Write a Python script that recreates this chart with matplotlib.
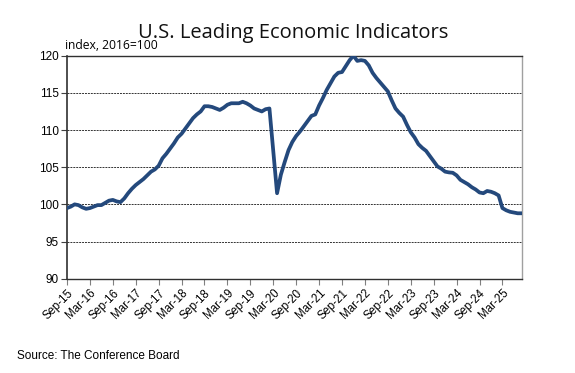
import numpy as np
import matplotlib.pyplot as plt

# monthly LEI, Sep-15 .. Aug-25 (index, 2016=100)
lei = [
    99.5, 99.7, 100.0, 99.9, 99.6, 99.4, 99.5, 99.7, 99.9, 99.9, 100.2, 100.5,
    100.6, 100.4, 100.3, 100.8, 101.5, 102.1, 102.6, 103.0, 103.4, 103.9, 104.4, 104.7,
    105.2, 106.2, 106.8, 107.5, 108.2, 109.0, 109.5, 110.2, 110.9, 111.6, 112.1, 112.5,
    113.2, 113.2, 113.1, 112.9, 112.7, 113.0, 113.4, 113.6, 113.6, 113.6, 113.8, 113.6,
    113.3, 112.9, 112.7, 112.5, 112.8, 112.9, 107.2, 101.5, 104.0, 105.7, 107.3, 108.4,
    109.2, 109.8, 110.5, 111.2, 111.9, 112.1, 113.3, 114.3, 115.4, 116.3, 117.2, 117.7,
    117.8, 118.6, 119.4, 120.0, 119.3, 119.4, 119.3, 118.7, 117.7, 117.0, 116.4, 115.8,
    115.2, 114.0, 112.9, 112.3, 111.8, 110.7, 109.7, 109.0, 108.1, 107.6, 107.2, 106.5,
    105.8, 105.1, 104.8, 104.4, 104.3, 104.25, 103.9, 103.3, 103.0, 102.7, 102.3, 102.0,
    101.6, 101.5, 101.8, 101.7, 101.5, 101.2, 99.5, 99.2, 99.0, 98.9, 98.8, 98.8,
]
tick_labels = ['Sep-15', 'Mar-16', 'Sep-16', 'Mar-17', 'Sep-17', 'Mar-18', 'Sep-18',
               'Mar-19', 'Sep-19', 'Mar-20', 'Sep-20', 'Mar-21', 'Sep-21', 'Mar-22',
               'Sep-22', 'Mar-23', 'Sep-23', 'Mar-24', 'Sep-24', 'Mar-25']
y_ticks = [90, 95, 100, 105, 110, 115, 120]

fig = plt.figure(figsize=(5.75, 3.73), dpi=100)
ax = fig.add_axes([0.1165, 0.2528, 0.7905, 0.5979])

x = np.arange(len(lei))
ax.plot(x, lei, color='#24497c', lw=2.7, solid_joinstyle='round', zorder=3)

ax.set_xlim(0, len(lei) - 1)
ax.set_ylim(90, 120)
ax.set_yticks(y_ticks)
ax.set_yticklabels([str(v) for v in y_ticks], fontsize=8.5, family='Liberation Sans')
ax.set_xticks(np.arange(0, len(lei), 6))
ax.set_xticklabels(tick_labels, rotation=45, ha='right', rotation_mode='anchor',
                   fontsize=8.3, family='Liberation Sans')
ax.tick_params(axis='x', length=4, color='#808080', pad=2)
ax.tick_params(axis='y', length=4, color='#404040', pad=2)

for v in y_ticks[1:-1]:
    ax.axhline(v, color='#333333', lw=0.7, ls=(0, (2, 1)), zorder=1)

ax.spines['left'].set_color('#303030')
ax.spines['left'].set_linewidth(1.2)
ax.spines['bottom'].set_color('#303030')
ax.spines['bottom'].set_linewidth(1.0)
ax.spines['top'].set_color('#303030')
ax.spines['top'].set_linewidth(1.0)
ax.spines['right'].set_color('#a0a0a0')
ax.spines['right'].set_linewidth(1.0)

fig.text(0.51, 0.912, 'U.S. Leading Economic Indicators', ha='center', va='center',
         fontsize=14.5, family='Open Sans', color='#111111')
ax.text(-0.005, 1.015, 'index, 2016=100', transform=ax.transAxes, ha='left', va='bottom',
        fontsize=8.7, family='Open Sans')
fig.text(0.03, 0.045, 'Source: The Conference Board', ha='left', va='center',
         fontsize=8.5, family='Liberation Sans')

fig.savefig('out.png', dpi=100)
